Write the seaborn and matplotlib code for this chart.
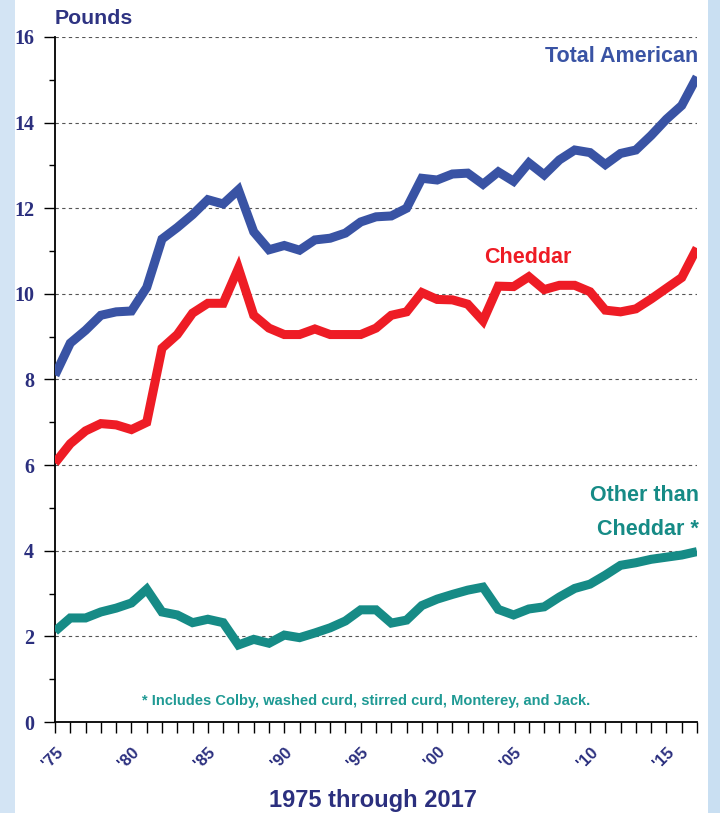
import numpy as np
import pandas as pd
import seaborn as sns
import matplotlib.pyplot as plt
from matplotlib.patches import Rectangle

# dados (libras per capita)
anos = list(range(1975, 2018))

total_american = [8.1, 8.85, 9.15, 9.5, 9.58, 9.6, 10.15, 11.28, 11.55, 11.85,
                  12.2, 12.1, 12.43, 11.45, 11.03, 11.13, 11.02, 11.26, 11.3, 11.42,
                  11.68, 11.8, 11.82, 12.0, 12.7, 12.66, 12.8, 12.82, 12.56, 12.85,
                  12.63, 13.06, 12.78, 13.13, 13.36, 13.3, 13.02, 13.28, 13.36, 13.7,
                  14.08, 14.4, 15.07]

cheddar = [6.05, 6.5, 6.8, 6.97, 6.94, 6.83, 7.0, 8.73, 9.05, 9.55,
           9.78, 9.78, 10.6, 9.5, 9.2, 9.05, 9.05, 9.18, 9.05, 9.05,
           9.05, 9.2, 9.5, 9.58, 10.03, 9.87, 9.86, 9.76, 9.37, 10.18,
           10.17, 10.4, 10.1, 10.2, 10.2, 10.05, 9.62, 9.58, 9.65, 9.88,
           10.13, 10.38, 11.07]

other_than_cheddar = [2.12, 2.43, 2.43, 2.57, 2.66, 2.78, 3.1, 2.57, 2.5, 2.32,
                      2.4, 2.32, 1.8, 1.93, 1.84, 2.03, 1.97, 2.08, 2.2, 2.36,
                      2.62, 2.62, 2.31, 2.38, 2.72, 2.87, 2.98, 3.08, 3.15, 2.63,
                      2.5, 2.64, 2.69, 2.92, 3.12, 3.22, 3.43, 3.66, 3.72, 3.8,
                      3.85, 3.9, 3.98]

series = ['Total American', 'Cheddar', 'Other than Cheddar']
cores = {'Total American': '#3953a4', 'Cheddar': '#ee1c25', 'Other than Cheddar': '#168b86'}

xticks_pos = list(range(1975, 2016, 5))
xticks_lab = ["'75", "'80", "'85", "'90", "'95", "'00", "'05", "'10", "'15"]

df = pd.DataFrame({
    'ano': anos * 3,
    'libras': total_american + cheddar + other_than_cheddar,
    'serie': [series[0]] * len(anos) + [series[1]] * len(anos) + [series[2]] * len(anos),
})

sns.set_style('white')
plt.rcParams['font.family'] = ['Liberation Sans', 'DejaVu Sans']

navy = '#2b2f7e'
sans = ['Liberation Sans', 'DejaVu Sans']

fig = plt.figure(figsize=(7.2, 8.13), dpi=100, facecolor='white')
# bordas azuis claras nas laterais
fig.patches.append(Rectangle((0, 0), 15 / 720, 1, transform=fig.transFigure,
                             facecolor='#d3e4f4', edgecolor='none', zorder=0))
fig.patches.append(Rectangle((708 / 720, 0), 12 / 720, 1, transform=fig.transFigure,
                             facecolor='#c9dff2', edgecolor='none', zorder=0))

ax = fig.add_axes([55 / 720, 1 - 722 / 813, (697 - 55) / 720, (722 - 37) / 813])
ax.set_facecolor('none')

sns.lineplot(data=df, x='ano', y='libras', hue='serie', palette=cores,
             linewidth=6.5, legend=False, ax=ax, zorder=3)
for ln in ax.lines:
    ln.set_solid_joinstyle('miter')
    ln.set_solid_capstyle('butt')

ax.set_xlim(1975, 2017)
ax.set_ylim(0, 16)

# grade tracejada
for v in range(2, 17, 2):
    ax.axhline(v, color='#555555', linestyle=(0, (3, 3)), linewidth=0.8, zorder=1)

sns.despine(ax=ax)
ax.spines['left'].set_color('black')
ax.spines['bottom'].set_color('black')
ax.spines['left'].set_linewidth(1.3)
ax.spines['bottom'].set_linewidth(1.3)

ax.set_yticks(range(0, 17, 2))
ax.set_yticks(range(1, 16, 2), minor=True)
ax.set_yticklabels([str(v) for v in range(0, 17, 2)], fontfamily='Liberation Serif',
                   fontweight='bold', fontsize=14.5, color=navy)
ax.tick_params(axis='y', which='major', direction='out', length=8, width=1, color='black', pad=7,
               left=True)
ax.tick_params(axis='y', which='minor', direction='out', length=4, width=1, color='black', left=True)

ax.set_xticks(anos, minor=True)
ax.set_xticks(xticks_pos)
ax.set_xticklabels(xticks_lab, rotation=45, ha='right', rotation_mode='anchor',
                   fontsize=12, fontweight='bold', color=navy, fontfamily=sans)
ax.tick_params(axis='x', which='both', direction='out', length=8, width=1, color='black',
               bottom=True, pad=8)

ax.set_xlabel('')
ax.set_ylabel('')

fig.text(55 / 720, 1 - 18 / 813, 'Pounds', ha='left', va='center', fontsize=15.3,
         fontweight='bold', color='#2e3382')
ax.text(2017.1, 15.55, 'Total American', ha='right', va='center', fontsize=15.5,
        fontweight='bold', color='#3953a4')
ax.text(2003.06, 10.86, 'Cheddar', ha='left', va='center', fontsize=15.5,
        fontweight='bold', color='#ee1c25')
ax.text(2017.1, 5.28, 'Other than', ha='right', va='center', fontsize=15.5,
        fontweight='bold', color='#168b86')
ax.text(2017.1, 4.5, 'Cheddar *', ha='right', va='center', fontsize=15.5,
        fontweight='bold', color='#168b86')
ax.text(1980.7, 0.49, '* Includes Colby, washed curd, stirred curd, Monterey, and Jack.',
        ha='left', va='center', fontsize=10.5, fontweight='bold', color='#1f9a94',
        fontfamily=sans)

fig.text(373 / 720, 1 - 800 / 813, '1975 through 2017', ha='center', va='center',
         fontsize=17, fontweight='bold', color=navy, fontfamily=sans)

fig.savefig('out.png', dpi=100, facecolor=fig.get_facecolor())
